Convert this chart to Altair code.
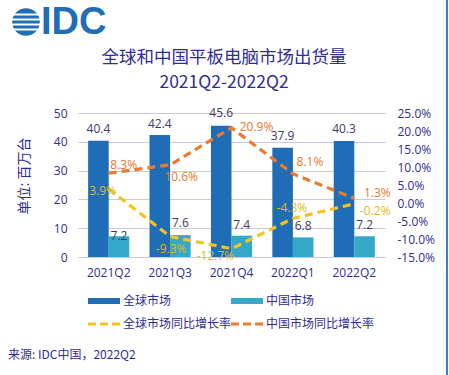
import altair as alt
import pandas as pd

# ---------------- data ----------------
quarters = ["2021Q2", "2021Q3", "2021Q4", "2022Q1", "2022Q2"]
global_shipments = [40.4, 42.4, 45.6, 37.9, 40.3]
china_shipments = [7.2, 7.6, 7.4, 6.8, 7.2]
global_yoy = [3.9, -9.3, -12.7, -4.3, -0.2]
china_yoy = [8.3, 10.6, 20.9, 8.1, 1.3]
left_ticks = [0, 10, 20, 30, 40, 50]
right_ticks = [-15, -10, -5, 0, 5, 10, 15, 20, 25]
bar_series = ["全球市场", "中国市场"]
line_series = ["全球市场同比增长率", "中国市场同比增长率"]

# ---------------- styles ----------------
W, H = 307, 144
BLUE = "#1E6DB6"
TEAL = "#33A8C8"
YELLOW = "#F5C21F"
ORANGE = "#EC7A30"
YELLOW_TXT = "#DDBD1C"
ORANGE_TXT = "#E8782C"
INDIGO = "#2F2C95"
GRID = "#C9C6EF"
LABEL_DARK = "#3C3C5E"
CJK = "Noto Sans CJK SC"
NUM = "Open Sans"

bars_df = pd.DataFrame(
    [{"q": q, "s": bar_series[0], "v": v, "i": i} for i, (q, v) in enumerate(zip(quarters, global_shipments))]
    + [{"q": q, "s": bar_series[1], "v": v, "i": i} for i, (q, v) in enumerate(zip(quarters, china_shipments))]
)
lines_df = pd.DataFrame(
    [{"q": q, "s": line_series[0], "v": v, "i": i} for i, (q, v) in enumerate(zip(quarters, global_yoy))]
    + [{"q": q, "s": line_series[1], "v": v, "i": i} for i, (q, v) in enumerate(zip(quarters, china_yoy))]
)

x_scale = alt.Scale(domain=quarters, paddingInner=0.33, paddingOuter=0.165)
x_axis = alt.Axis(labelAngle=0, labelFont=NUM, labelFontSize=12, labelColor=INDIGO,
                  domain=False, ticks=False, labelPadding=10, grid=False, title=None)
x_enc = alt.X("q:N", sort=quarters, scale=x_scale, axis=x_axis)
xoff = alt.XOffset("s:N", sort=bar_series, scale=alt.Scale(domain=bar_series, paddingInner=0, paddingOuter=0))

left_scale = alt.Scale(domain=[0, 50], nice=False, zero=True)
left_axis = alt.Axis(orient="left", values=left_ticks, grid=True, gridColor=GRID, gridWidth=1,
                     domain=False, ticks=False, labelFont=NUM, labelFontSize=12,
                     labelColor=INDIGO, labelPadding=11, title=None)
y_left = alt.Y("v:Q", scale=left_scale, axis=left_axis)

right_scale = alt.Scale(domain=[-15, 25], nice=False, zero=False)
right_axis = alt.Axis(orient="right", values=right_ticks, grid=False, domain=False, ticks=False,
                      labelFont=NUM, labelFontSize=12, labelColor=INDIGO, labelPadding=12,
                      title=None,
                      labelExpr="(datum.value < 0 ? '-' : '') + format(abs(datum.value), '.1f') + '%'")
y_right = alt.Y("v:Q", scale=right_scale, axis=right_axis)

bars = alt.Chart(bars_df).mark_bar().encode(
    x=x_enc, xOffset=xoff, y=y_left,
    color=alt.Color("s:N", scale=alt.Scale(domain=bar_series, range=[BLUE, TEAL]), legend=None),
)

bar_label_layers = []
global_dy = [-12, -11, -13, -12, -12]
china_dy = [0, -12, -11, -11, -11]
for si, dys in enumerate([global_dy, china_dy]):
    for i, dy in enumerate(dys):
        bar_label_layers.append(
            alt.Chart(bars_df).transform_filter(
                f"datum.s == '{bar_series[si]}' && datum.i == {i}"
            ).mark_text(font=NUM, fontSize=12, color=LABEL_DARK, dy=dy, baseline="middle", align="center")
            .encode(x=x_enc, xOffset=xoff, y=y_left, text=alt.Text("v:Q", format=".1f"))
        )

left_layer = alt.layer(bars, *bar_label_layers)

lines = alt.Chart(lines_df).mark_line(strokeDash=[8, 5], strokeWidth=3.2).encode(
    x=x_enc, y=y_right,
    color=alt.Color("s:N", scale=alt.Scale(domain=line_series, range=[YELLOW, ORANGE]), legend=None),
    detail="s:N",
)

yellow_off = [(-6, 2), (1, 13), (-16, 7), (-1, -10), (21, 7)]
orange_off = [(15, -8), (11, 12), (25, -1), (17, -12), (23, -5)]
line_label_layers = []
for si, (offs, col) in enumerate([(yellow_off, YELLOW_TXT), (orange_off, ORANGE_TXT)]):
    for i, (dx, dy) in enumerate(offs):
        line_label_layers.append(
            alt.Chart(lines_df).transform_filter(
                f"datum.s == '{line_series[si]}' && datum.i == {i}"
            ).transform_calculate(lab="(datum.v < 0 ? '-' : '') + format(abs(datum.v), '.1f') + '%'")
            .mark_text(font=NUM, fontSize=12, color=col, dx=dx, dy=dy, baseline="middle", align="center")
            .encode(x=x_enc, y=y_right, text="lab:N")
        )

right_layer = alt.layer(lines, *line_label_layers)

# ---------------- decorations (titles, legend, logo, source) ----------------
one = alt.Data(values=[{}])


def txt(s, x, y, size, color=INDIGO, font=CJK, align="center", weight="normal", angle=0):
    return alt.Chart(one).mark_text(
        text=s, fontSize=size, color=color, font=font, align=align, baseline="middle",
        fontWeight=weight, angle=angle,
    ).encode(x=alt.value(x), y=alt.value(y))


def rule(x1, x2, y1, y2, color, width, dash=None):
    kw = dict(color=color, strokeWidth=width)
    if dash:
        kw["strokeDash"] = dash
    return alt.Chart(one).mark_rule(**kw).encode(
        x=alt.value(x1), x2=alt.value(x2), y=alt.value(y1), y2=alt.value(y2)
    )


def rect(x1, x2, y1, y2, color):
    return alt.Chart(one).mark_rect(color=color).encode(
        x=alt.value(x1), x2=alt.value(x2), y=alt.value(y1), y2=alt.value(y2)
    )


OX, OY = 78, 113  # plot origin on the page
deco = [
    # titles
    txt("全球和中国平板电脑市场出货量", 224 - OX, 58 - OY, 17.5),
    txt("2021Q2-2022Q2", 224 - OX, 83 - OY, 17.5),
    # y axis title
    txt("单位: 百万台", 25 - OX, 176 - OY, 14, angle=270),
    # legend
    rect(88 - OX, 120 - OX, 298 - OY, 304 - OY, BLUE),
    txt("全球市场", 123 - OX, 301 - OY, 12, align="left"),
    rect(231 - OX, 263 - OX, 298 - OY, 304 - OY, TEAL),
    txt("中国市场", 266 - OX, 301 - OY, 12, align="left"),
    rule(88 - OX, 120 - OX, 324 - OY, 324 - OY, YELLOW, 3, [8, 4]),
    txt("全球市场同比增长率", 123 - OX, 324 - OY, 12, align="left"),
    rule(231 - OX, 263 - OX, 324 - OY, 324 - OY, ORANGE, 3, [8, 4]),
    txt("中国市场同比增长率", 266 - OX, 324 - OY, 12, align="left"),
    # source
    txt("来源: IDC中国，2022Q2", 8 - OX, 355 - OY, 12, align="left"),
    # logo
    alt.Chart(one).mark_point(shape="circle", filled=True, color=BLUE, opacity=1, size=760)
    .encode(x=alt.value(26 - OX), y=alt.value(22 - OY)),
    rule(10 - OX, 42 - OX, 14.5 - OY, 14.5 - OY, "white", 2),
    rule(10 - OX, 42 - OX, 19.5 - OY, 19.5 - OY, "white", 2),
    rule(10 - OX, 42 - OX, 24.5 - OY, 24.5 - OY, "white", 2),
    rule(10 - OX, 42 - OX, 29.5 - OY, 29.5 - OY, "white", 2),
    txt("IDC", 41 - OX, 23 - OY, 38, color=BLUE, font="Liberation Sans", align="left", weight="bold"),
    # right border
    rule(447 - OX, 447 - OX, 0 - OY, 375 - OY, "#3A7FD5", 2),
]

chart = (
    alt.layer(left_layer, right_layer, *deco)
    .resolve_scale(y="independent", color="independent")
    .properties(
        width=W, height=H,
        padding={"left": OX, "top": OY, "right": 449 - OX - W, "bottom": 375 - OY - H},
        autosize=alt.AutoSizeParams(type="none"),
        background="white",
    )
    .configure_view(stroke=None)
)

chart.save("out.html", embed_options={"renderer": "svg", "actions": False})
